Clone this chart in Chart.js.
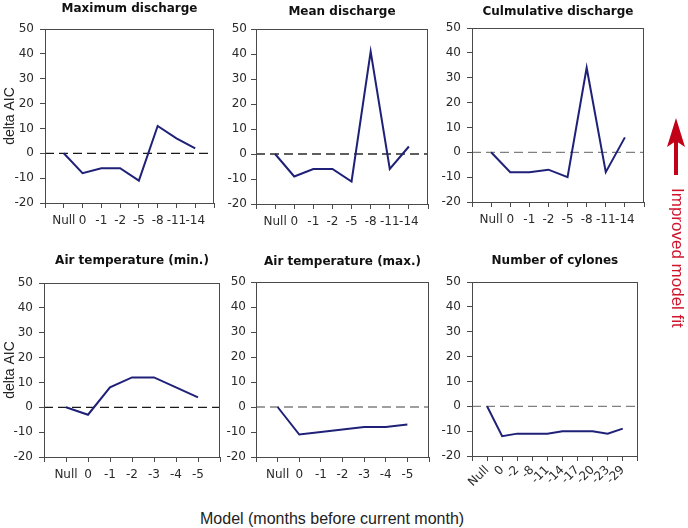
<!DOCTYPE html>
<html><head><meta charset="utf-8">
<script src="https://cdn.jsdelivr.net/npm/chart.js@4.4.0/dist/chart.umd.min.js"></script>
<style>
html,body{margin:0;padding:0;background:#fff;}
body{width:688px;height:528px;position:relative;overflow:hidden;}
canvas{position:absolute;}
#xtitle{position:absolute;left:200px;top:511px;font:16px 'Liberation Sans',Arial,sans-serif;line-height:16px;color:#222;white-space:nowrap;}
#note{position:absolute;left:668px;top:188px;writing-mode:vertical-rl;font:17px 'Liberation Sans',Arial,sans-serif;color:#d0142c;white-space:nowrap;line-height:19px;}
#arrow{position:absolute;left:664px;top:114px;}
</style></head><body>
<canvas id="c1" width="220" height="233" style="left:0px;top:0px"></canvas>
<canvas id="c2" width="218" height="234" style="left:216px;top:0px"></canvas>
<canvas id="c3" width="218" height="232" style="left:432px;top:0px"></canvas>
<canvas id="c4" width="226" height="237" style="left:0px;top:250px"></canvas>
<canvas id="c5" width="219" height="237" style="left:216px;top:250px"></canvas>
<canvas id="c6" width="218" height="250" style="left:432px;top:250px"></canvas>
<div id="xtitle">Model (months before current month)</div>
<svg id="arrow" width="24" height="64" viewBox="0 0 24 64">
  <rect x="10" y="26" width="4" height="35" fill="#c20018"/>
  <polygon points="12,4 3,33 12,27 21,33" fill="#c20018"/>
</svg>
<div id="note">Improved model fit</div>
<script>
// ---- data ----
const dischargeCategories = ['Null','0','-1','-2','-5','-8','-11','-14'];
const maxDischargeValues  = [0,-8,-6,-6,-11,11,6,2];
const meanDischargeValues = [0,-9,-6,-6,-11,41,-6,3];
const cumDischargeValues  = [0,-8,-8,-7,-10,34,-8,6];
const airTempCategories   = ['Null','0','-1','-2','-3','-4','-5'];
const airTempMinValues    = [0,-3,8,12,12,8,4];
const airTempMaxValues    = [0,-11,-10,-9,-8,-8,-7];
const cycloneCategories   = ['Null','0','-2','-8','-11','-14','-17','-20','-23','-29'];
const cycloneValues       = [0,-12,-11,-11,-11,-10,-10,-10,-11,-9];
const yMin = -20, yMax = 50, yStep = 10;
const referenceLevel = 0;

Chart.defaults.font.family = "'DejaVu Sans', sans-serif";
Chart.defaults.color = '#2a2a2a';

const boxPlugin = {
  id: 'box',
  afterDraw(chart) {
    const {ctx, chartArea: a} = chart;
    ctx.save();
    ctx.strokeStyle = '#4a4a4a';
    ctx.lineWidth = 1;
    ctx.strokeRect(Math.round(a.left) + 0.5, Math.round(a.top) + 0.5,
                   Math.round(a.right - a.left) - 1, Math.round(a.bottom - a.top));
    ctx.restore();
  }
};

function makePanel(id, p) {
  const labels = [''].concat(p.cats, ['']);
  const vals = [null].concat(p.vals, [null]);
  const zero = labels.map(() => referenceLevel);
  new Chart(document.getElementById(id), {
    type: 'line',
    data: {
      labels: labels,
      datasets: [
        {data: vals, borderColor: '#1f2178', borderWidth: 2, pointRadius: 0, tension: 0, fill: false},
        {data: zero, borderColor: p.zeroColor, borderWidth: 1.3, borderDash: [9, 5], pointRadius: 0, fill: false}
      ]
    },
    options: {
      responsive: false, animation: false, devicePixelRatio: 1,
      layout: {padding: {left: 0, right: p.pr, top: 0, bottom: 0}},
      plugins: {
        legend: {display: false}, tooltip: {enabled: false},
        title: {display: true, fullSize: false, text: p.title, color: '#111',
                font: {family: "'DejaVu Sans', sans-serif", size: 12, weight: 'bold'},
                padding: {top: p.tt, bottom: p.tb}}
      },
      scales: {
        x: {
          type: 'category', offset: false,
          grid: {drawOnChartArea: false, drawTicks: true, tickLength: 5, color: '#4a4a4a'},
          border: {display: false},
          ticks: {autoSkip: false, maxRotation: p.rot, minRotation: p.rot, padding: p.rot ? 2 : 6,
                  font: {size: 12}, color: '#2a2a2a'},
          afterFit: s => { s.height = p.xh; }
        },
        y: {
          min: yMin, max: yMax,
          grid: {drawOnChartArea: false, drawTicks: true, tickLength: 5, color: '#4a4a4a'},
          border: {display: false},
          ticks: {stepSize: yStep, padding: p.yp, font: {size: 12}, color: '#2a2a2a'},
          title: {display: !!p.yTitle, text: p.yTitle || '', color: '#222',
                  font: {family: "'Liberation Sans', Arial, sans-serif", size: 14},
                  padding: {top: 2, bottom: 0}},
          afterFit: s => { s.width = p.wy; }
        }
      }
    },
    plugins: [boxPlugin]
  });
}

makePanel('c1', {cats: dischargeCategories, vals: maxDischargeValues, title: 'Maximum discharge',
  zeroColor: '#1a1a1a', pr: 2, wy: 45, xh: 30, tt: 2, tb: 12.6, yTitle: 'delta AIC', yp: 6, rot: 0});
makePanel('c2', {cats: dischargeCategories, vals: meanDischargeValues, title: 'Mean discharge',
  zeroColor: '#2a2a2a', pr: 3, wy: 40, xh: 30, tt: 5, tb: 9.6, yp: 4, rot: 0});
makePanel('c3', {cats: dischargeCategories, vals: cumDischargeValues, title: 'Culmulative discharge',
  zeroColor: '#808080', pr: 3, wy: 40, xh: 30, tt: 5, tb: 8.6, yp: 6, rot: 0});
makePanel('c4', {cats: airTempCategories, vals: airTempMinValues, title: 'Air temperature (min.)',
  zeroColor: '#1a1a1a', pr: 3, wy: 44, xh: 30, tt: 4, tb: 14.6, yTitle: 'delta AIC', yp: 6, rot: 0});
makePanel('c5', {cats: airTempCategories, vals: airTempMaxValues, title: 'Air temperature (max.)',
  zeroColor: '#808080', pr: 3, wy: 40, xh: 30, tt: 5, tb: 12.6, yp: 5, rot: 0});
makePanel('c6', {cats: cycloneCategories, vals: cycloneValues, title: 'Number of cylones',
  zeroColor: '#808080', pr: 3, wy: 40, xh: 44, tt: 4, tb: 13.6, yp: 6, rot: 45});
</script>
</body></html>
